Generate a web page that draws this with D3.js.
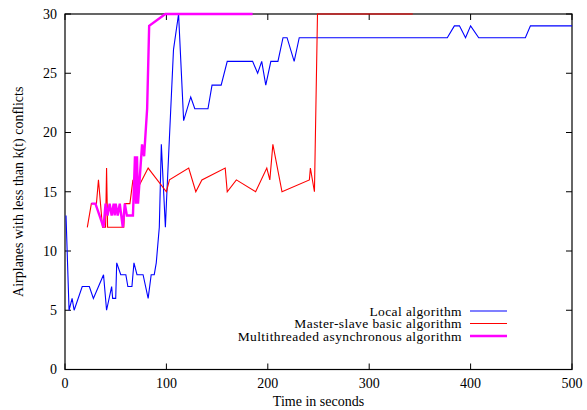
<!DOCTYPE html>
<html>
<head>
<meta charset="utf-8">
<script src="https://cdn.jsdelivr.net/npm/d3@7/dist/d3.min.js"></script>
<style>
  body { margin: 0; background: #fff; }
  text { font-family: "Liberation Serif", serif; font-size: 14px; fill: #000; }
  .legend text { font-size: 13.5px; letter-spacing: 0.4px; }
</style>
</head>
<body>
<div id="chart"></div>
<script>
// Local algorithm
const localTime = [1,4,7,9,17,24,28,38,41,46,47,50,51,55,60,62,66,68,71,77,82,85,88,90,93,95,99,100,107,112,117,124,128,141,145,154,160,185,190,194,198,203,210,215,219,226,231,377,384,389,395,400,408,454,459,500];
const localPlanes = [13,5,6,5,7,7,6,8,5,7,6,6,9,8,8,7,7,9,8,8,6,8,8,9,12,19,12,14,27,30,21,23,22,22,24,24,26,26,25,26,24,26,26,28,28,26,28,28,29,29,28,29,28,28,29,29];

// Master-slave basic algorithm
const masterTime = [22,26,31,33,37,40,41,42,58,59,64,67,70,82,100,103,122,129,135,158,160,169,188,199,202,205,214,241,242,246,249,343];
const masterPlanes = [12,14,14,16,12,12,17,12,12,14,14,16,15,17,15,16,17,15,16,17,15,16,15,17,16,19,15,16,17,15,30,30];

// Multithreaded asynchronous algorithm
const multiTime = [26,30,34,38,40,42,44,46,48,49,50,52,54,57,59,61,67,69,70,71,72,76,78,81,83,99,185];
const multiPlanes = [14,14,13,12,14,13,14,13,14,13,14,13,14,12,14,13,13,18,14,18,14,19,18,22,29,30,30];

const xTicks = [0,100,200,300,400,500];
const yTicks = [0,5,10,15,20,25,30];
const seriesNames = ["Local algorithm", "Master-slave basic algorithm", "Multithreaded asynchronous algorithm"];

const width = 587, height = 410;
const margin = {top: 14, right: 15, bottom: 40.5, left: 65};
const tickLen = 6;

const svg = d3.select("#chart").append("svg")
    .attr("width", width)
    .attr("height", height);

const x = d3.scaleLinear().domain([0, 500]).range([margin.left, width - margin.right]);
const y = d3.scaleLinear().domain([0, 30]).range([height - margin.bottom, margin.top]);

const series = [
  {name: seriesNames[0], t: localTime, v: localPlanes, color: "#0000ff", w: 1.1},
  {name: seriesNames[1], t: masterTime, v: masterPlanes, color: "#ff0000", w: 1.1},
  {name: seriesNames[2], t: multiTime, v: multiPlanes, color: "#ff00ff", w: 2.4}
];

// frame
svg.append("rect")
    .attr("x", x(0)).attr("y", y(30))
    .attr("width", x(500) - x(0)).attr("height", y(0) - y(30))
    .attr("fill", "none").attr("stroke", "#000").attr("stroke-width", 1.2);

// ticks, drawn inward on all four sides
xTicks.forEach(t => {
  svg.append("line").attr("x1", x(t)).attr("x2", x(t))
      .attr("y1", y(0)).attr("y2", y(0) - tickLen).attr("stroke", "#000");
  svg.append("line").attr("x1", x(t)).attr("x2", x(t))
      .attr("y1", y(30)).attr("y2", y(30) + tickLen).attr("stroke", "#000");
  svg.append("text").attr("x", x(t)).attr("y", y(0) + 18)
      .attr("text-anchor", "middle").text(t);
});
yTicks.forEach(v => {
  svg.append("line").attr("x1", x(0)).attr("x2", x(0) + tickLen)
      .attr("y1", y(v)).attr("y2", y(v)).attr("stroke", "#000");
  svg.append("line").attr("x1", x(500)).attr("x2", x(500) - tickLen)
      .attr("y1", y(v)).attr("y2", y(v)).attr("stroke", "#000");
  svg.append("text").attr("x", x(0) - 8).attr("y", y(v))
      .attr("dy", "0.35em").attr("text-anchor", "end").text(v);
});

// axis titles
svg.append("text").attr("x", (x(0) + x(500)) / 2).attr("y", height - 4)
    .attr("text-anchor", "middle").text("Time in seconds");
svg.append("text")
    .attr("transform", `translate(18, ${(y(0) + y(30)) / 2}) rotate(-90)`)
    .attr("text-anchor", "middle").attr("dy", "0.35em")
    .text("Airplanes with less than k(t) conflicts");

// lines
const line = d3.line().x(d => x(d[0])).y(d => y(d[1]));
series.forEach(s => {
  svg.append("path")
      .datum(d3.zip(s.t, s.v))
      .attr("d", line)
      .attr("fill", "none")
      .attr("stroke", s.color)
      .attr("stroke-width", s.w)
      .attr("stroke-linejoin", "miter");
});

// legend
const legend = svg.append("g").attr("class", "legend");
series.forEach((s, i) => {
  const ly = 311 + i * 12.5;
  legend.append("text").attr("x", 462).attr("y", ly).attr("dy", "0.35em")
      .attr("text-anchor", "end").text(s.name);
  legend.append("line").attr("x1", 470).attr("x2", 507)
      .attr("y1", ly).attr("y2", ly)
      .attr("stroke", s.color).attr("stroke-width", s.w);
});
</script>
</body>
</html>
